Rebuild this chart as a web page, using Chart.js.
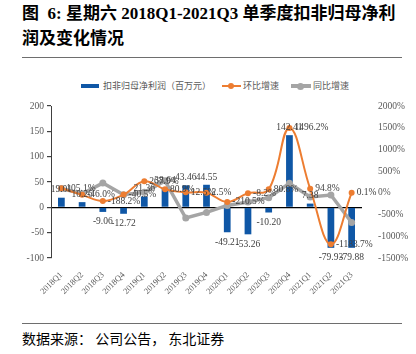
<!DOCTYPE html>
<html lang="zh-CN">
<head>
<meta charset="utf-8">
<title>星期六 单季度扣非归母净利润</title>
<script src="https://cdn.jsdelivr.net/npm/chart.js@4.4.1/dist/chart.umd.min.js"></script>
<style>
  html, body { margin: 0; padding: 0; background: #fff; }
  #page { position: relative; width: 416px; height: 354px; overflow: hidden; }

  .title {
    position: absolute; left: 22px; top: 1px;
    font: bold 17px/25px "Liberation Serif", "Noto Sans CJK SC", serif;
    color: #000; white-space: nowrap;
  }
  .rule { position: absolute; left: 22px; width: 380px; height: 0; border-top: 1.5px solid #6e6e6e; }
  .source {
    position: absolute; left: 22px; top: 329px;
    font: 14px/18px "Noto Sans CJK SC", sans-serif; color: #000; white-space: nowrap;
  }

  /* legend */
  .lg { position: absolute; top: 80px; height: 12px; font: 9px/12px "Noto Sans CJK SC", sans-serif; color: #595959; white-space: nowrap; }
  .lg-swatch { position: absolute; }
  .lg-dot { position: absolute; border-radius: 50%; }

  #chartBox { position: absolute; left: 0; top: 60px; }
</style>
</head>
<body>
<div id="page">
  <div class="title">图&nbsp;&nbsp;6: 星期六 2018Q1-2021Q3 单季度扣非归母净利<br>润及变化情况</div>
  <div class="rule" style="top:57px"></div>

  <!-- legend -->
  <div class="lg-swatch" style="left:81px; top:84px; width:18px; height:4px; background:#0f57a6"></div>
  <div class="lg" style="left:103px">扣非归母净利润（百万元）</div>
  <div class="lg-swatch" style="left:222px; top:85px; width:19px; height:2px; background:#ed7d31"></div>
  <div class="lg-dot" style="left:228px; top:83px; width:6px; height:6px; background:#ed7d31"></div>
  <div class="lg" style="left:243px">环比增速</div>
  <div class="lg-swatch" style="left:291px; top:84px; width:20px; height:3.5px; background:#a5a5a5"></div>
  <div class="lg-dot" style="left:297px; top:82.5px; width:7px; height:7px; background:#a5a5a5"></div>
  <div class="lg" style="left:313px">同比增速</div>

  <div id="chartBox"><canvas id="profitChart" width="416" height="262"></canvas></div>

  <div class="rule" style="top:323px"></div>
  <div class="source">数据来源： 公司公告， 东北证券</div>
</div>

<script>
// -----------------------------------------
// DATA
// -----------------------------------------
const quarters = [
  '2018Q1', '2018Q2', '2018Q3', '2018Q4',
  '2019Q1', '2019Q2', '2019Q3', '2019Q4',
  '2020Q1', '2020Q2', '2020Q3', '2020Q4',
  '2021Q1', '2021Q2', '2021Q3'
];

// 扣非归母净利润（百万元）
const netProfit = [19.01, 10.26, -9.06, -12.72, 21.36, 38.64, 43.46, 44.55,
                   -49.21, -53.26, -10.20, 142.41, 7.38, -79.93, -79.88];

// 环比增速 (%)
const qoqGrowth = [105.1, -46.0, -188.2, -40.5, 267.9, 80.9, 12.5, 2.5,
                   -210.5, -8.2, 80.8, 1496.2, 94.8, -1183.7, 0.1];

// 同比增速 (%)
const yoyGrowth = [100, -20, 225, -45, 12.4, 276.6, -579.7, -450.2,
                   -290, -210, -110, 219.7, -95, -50.1, -683.1];

// axis ranges: [min, max, step]
const profitAxis = [-100, 200, 50];
const growthAxis = [-1500, 2000, 500];

// -----------------------------------------
// COLOURS & FONTS
// -----------------------------------------
const BLUE   = '#0f57a6';
const ORANGE = '#ed7d31';
const GREY   = '#a5a5a5';
const TEXT   = '#595959';
const SERIF  = '"Liberation Serif", "Times New Roman", serif';

// -----------------------------------------
// PLUGIN: value labels on bars and the 环比 line
// -----------------------------------------
const valueLabels = {
  id: 'valueLabels',
  afterDatasetsDraw(chart) {
    const ctx = chart.ctx;
    ctx.save();
    ctx.font = '9.5px ' + SERIF;
    ctx.fillStyle = '#404040';

    // bar labels, outside end
    chart.getDatasetMeta(0).data.forEach((bar, i) => {
      const v = netProfit[i];
      ctx.textAlign = 'center';
      if (v >= 0) {
        ctx.textBaseline = 'bottom';
        ctx.fillText(v.toFixed(2), bar.x, bar.y - 3);
      } else {
        ctx.textBaseline = 'top';
        ctx.fillText(v.toFixed(2), bar.x, bar.y + 5);
      }
    });

    // 环比 labels, to the right of each point
    chart.getDatasetMeta(1).data.forEach((pt, i) => {
      ctx.textAlign = 'left';
      ctx.textBaseline = 'middle';
      ctx.fillText(qoqGrowth[i].toFixed(1) + '%', pt.x + 5, pt.y);
    });
    ctx.restore();
  }
};

// -----------------------------------------
// CHART
// -----------------------------------------
const tickFont = { family: SERIF, size: 9.5 };

new Chart(document.getElementById('profitChart'), {
  type: 'bar',
  data: {
    labels: quarters,
    datasets: [
      {
        label: '扣非归母净利润（百万元）',
        data: netProfit,
        backgroundColor: BLUE,
        barPercentage: 0.65,
        categoryPercentage: 0.5,
        yAxisID: 'y',
        order: 3
      },
      {
        type: 'line',
        label: '环比增速',
        data: qoqGrowth,
        borderColor: ORANGE,
        backgroundColor: ORANGE,
        borderWidth: 2,
        pointRadius: 3,
        pointBackgroundColor: ORANGE,
        pointBorderWidth: 0,
        tension: 0.4,
        yAxisID: 'y1',
        order: 1
      },
      {
        type: 'line',
        label: '同比增速',
        data: yoyGrowth,
        borderColor: GREY,
        backgroundColor: GREY,
        borderWidth: 3.5,
        pointRadius: 3.5,
        pointBackgroundColor: GREY,
        pointBorderWidth: 0,
        tension: 0,
        yAxisID: 'y1',
        order: 2
      }
    ]
  },
  options: {
    responsive: false,
    animation: false,
    devicePixelRatio: 1,
    layout: { padding: { top: 46, left: 0, right: 0, bottom: 0 } },
    plugins: {
      legend: { display: false },
      tooltip: { enabled: false }
    },
    scales: {
      x: {
        offset: true,
        grid: { display: false },
        border: { display: false },
        ticks: {
          color: TEXT,
          font: { family: SERIF, size: 8.5 },
          minRotation: 45,
          maxRotation: 45,
          autoSkip: false,
          padding: 4
        },
        afterFit: s => { s.height = 64; }
      },
      y: {
        position: 'left',
        min: profitAxis[0],
        max: profitAxis[1],
        ticks: { stepSize: profitAxis[2], color: TEXT, font: tickFont, padding: 3 },
        grid: {
          color: c => (c.tick && c.tick.value === 0) ? '#000' : 'rgba(0,0,0,0)',
          lineWidth: 1.2,
          tickColor: '#404040',
          tickLength: 4
        },
        border: { display: true, color: '#404040', width: 1 },
        afterFit: s => { s.width = 51; }
      },
      y1: {
        position: 'right',
        min: growthAxis[0],
        max: growthAxis[1],
        ticks: {
          stepSize: growthAxis[2],
          color: TEXT,
          font: tickFont,
          padding: 8,
          callback: v => v + '%'
        },
        grid: { display: false },
        border: { display: false },
        afterFit: s => { s.width = 54; }
      }
    }
  },
  plugins: [valueLabels]
});
</script>
</body>
</html>
